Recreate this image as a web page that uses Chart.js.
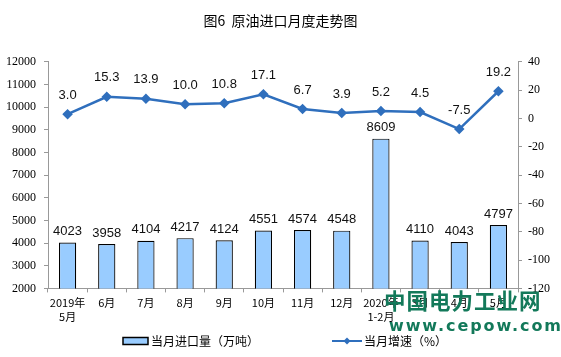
<!DOCTYPE html>
<html><head><meta charset="utf-8">
<script src="https://cdn.jsdelivr.net/npm/chart.js@4/dist/chart.umd.min.js"></script>
<style>
html,body{margin:0;padding:0;background:#fff;}
#wrap{position:relative;width:561px;height:357px;}
canvas{display:block;}
.wm{position:absolute;color:#13795a;font-weight:bold;white-space:nowrap;line-height:1;}
.lg{position:absolute;top:333px;font-family:"Noto Sans CJK SC",sans-serif;font-size:12px;color:#000;line-height:16px;white-space:nowrap;display:flex;align-items:center;}
.lg canvas{display:inline-block;margin-right:2px;}
</style></head>
<body><div id="wrap"><canvas id="c" width="561" height="357"></canvas>
<div class="lg" style="left:122px;"><canvas id="i1" width="27" height="10"></canvas>当月进口量（万吨）</div>
<div class="lg" style="left:332px;"><canvas id="i2" width="30" height="10"></canvas>当月增速（%）</div>
<div class="wm" style="left:384px;top:289px;font-size:21.5px;letter-spacing:1px;font-family:'Noto Sans CJK SC',sans-serif;">中国电力工业网</div>
<div class="wm" style="left:389px;top:318px;font-size:16px;letter-spacing:1.9px;font-family:'DejaVu Sans',sans-serif;">www.cepow.com</div>
</div>
<script>
const categories = [["2019年","5月"],"6月","7月","8月","9月","10月","11月","12月",["2020年","1-2月"],"3月","4月","5月"];
const importVolume = [4023,3958,4104,4217,4124,4551,4574,4548,8609,4110,4043,4797];
const growthRate = [3.0,15.3,13.9,10.0,10.8,17.1,6.7,3.9,5.2,4.5,-7.5,19.2];
const leftTicks = [2000,3000,4000,5000,6000,7000,8000,9000,10000,11000,12000];
const rightTicks = [-120,-100,-80,-60,-40,-20,0,20,40];

const lineColor = '#2f6fbd';
(function(){const x=document.getElementById('i1').getContext('2d');
 x.fillStyle='#99ccff';x.strokeStyle='#000';x.lineWidth=1.5;x.beginPath();x.rect(1,1.5,25,7);x.fill();x.stroke();
 const y=document.getElementById('i2').getContext('2d');
 y.strokeStyle=lineColor;y.lineWidth=2;y.beginPath();y.moveTo(0,5);y.lineTo(30,5);y.stroke();
 y.fillStyle=lineColor;y.beginPath();y.moveTo(15,1.5);y.lineTo(18.5,5);y.lineTo(15,8.5);y.lineTo(11.5,5);y.closePath();y.fill();})();

const labelPlugin = {
 id:'vals',
 afterDatasetsDraw(chart){
  const ctx=chart.ctx;ctx.save();
  ctx.font='13px "Liberation Sans", Arial, sans-serif';ctx.fillStyle='#111';ctx.textAlign='center';ctx.textBaseline='middle';
  chart.getDatasetMeta(0).data.forEach((el,i)=>{ctx.fillText(String(importVolume[i]),el.x,el.y-11);});
  chart.getDatasetMeta(1).data.forEach((el,i)=>{ctx.fillText(growthRate[i].toFixed(1),el.x,el.y-19);});
  ctx.restore();
 }
};

new Chart(document.getElementById('c'),{
 data:{labels:categories,datasets:[
  {type:'bar',label:'当月进口量（万吨）',data:importVolume,yAxisID:'y',backgroundColor:'#99ccff',borderColor:'#000',borderWidth:1.2,barPercentage:0.44,categoryPercentage:1,order:2},
  {type:'line',label:'当月增速（%）',data:growthRate,yAxisID:'y1',borderColor:lineColor,backgroundColor:lineColor,borderWidth:2.5,pointStyle:'rectRot',pointRadius:3.5,pointBackgroundColor:lineColor,pointBorderColor:lineColor,tension:0,order:1}
 ]},
 options:{
  responsive:false,animation:false,
  layout:{padding:{left:0,right:0,top:4,bottom:30}},
  plugins:{
   title:{display:true,text:'图6  原油进口月度走势图',font:{family:'"Noto Sans CJK SC", sans-serif',size:14,weight:'normal'},color:'#000',padding:{top:8,bottom:33}},
   legend:{display:false},
   tooltip:{enabled:false}
  },
  scales:{
   x:{offset:true,grid:{display:true,drawOnChartArea:false,offset:true,tickLength:4,color:'#999'},border:{color:'#999'},
      ticks:{color:'#000',font:{family:'"Noto Sans CJK SC", sans-serif',size:11,lineHeight:1.3},maxRotation:0,autoSkip:false,padding:3}},
   y:{position:'left',min:2000,max:12000,afterBuildTicks(a){a.ticks=leftTicks.map(v=>({value:v}));},
      afterFit(a){a.width=48;},
      grid:{display:true,drawOnChartArea:false,tickLength:4,color:'#999'},border:{color:'#999'},
      ticks:{color:'#000',callback:v=>String(v),font:{family:'"Liberation Serif", serif',size:12},padding:8}},
   y1:{position:'right',min:-120,max:40,afterBuildTicks(a){a.ticks=rightTicks.map(v=>({value:v}));},
      afterFit(a){a.width=43;},
      grid:{display:true,drawOnChartArea:false,tickLength:4,color:'#999'},border:{color:'#999'},
      ticks:{color:'#000',callback:v=>String(v),font:{family:'"Liberation Serif", serif',size:12},padding:6}}
  }
 },
 plugins:[labelPlugin]
});
</script></body></html>
